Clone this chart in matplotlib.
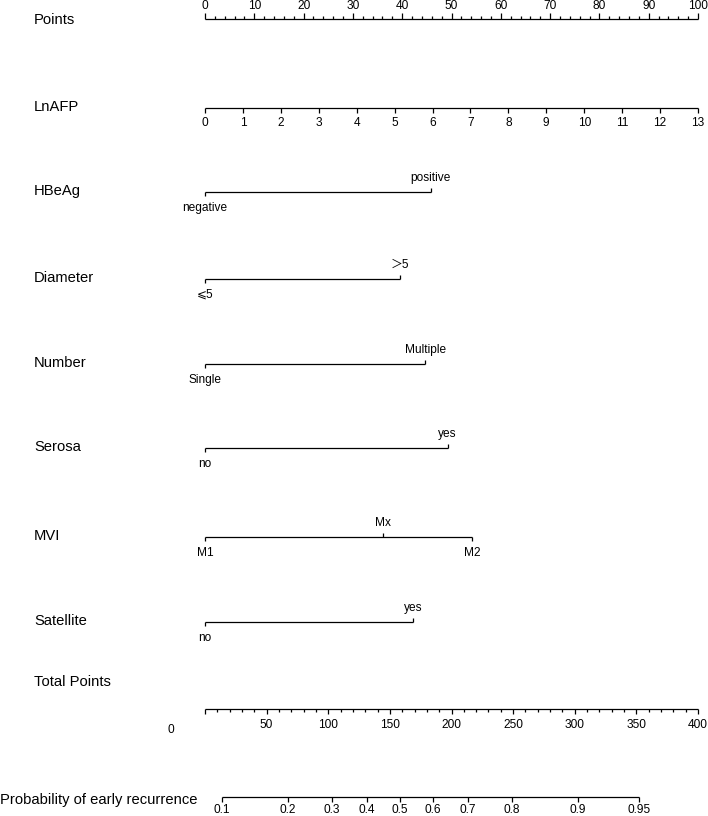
import numpy as np
import matplotlib
matplotlib.use("Agg")
import matplotlib.pyplot as plt

plt.rcParams["font.family"] = ["Liberation Sans", "Noto Sans CJK SC", "DejaVu Sans"]

# Scale definitions (values in "points", 0-100)
lnafp_values = np.arange(0, 14)
lnafp_max_points = 100.0  # LnAFP 13 -> 100 points

hbeag_levels = ["negative", "positive"]
hbeag_points = [0, 45.8]

diameter_levels = ["⩽5", "＞5"]
diameter_points = [0, 39.5]

number_levels = ["Single", "Multiple"]
number_points = [0, 44.7]

serosa_levels = ["no", "yes"]
serosa_points = [0, 49.2]

mvi_levels = ["M1", "Mx", "M2"]
mvi_points = [0, 36.1, 54.2]

satellite_levels = ["no", "yes"]
satellite_points = [0, 42.2]

total_ticks = [0, 50, 100, 150, 200, 250, 300, 350, 400]
total_max = 400.0

prob_labels = ["0.1", "0.2", "0.3", "0.4", "0.5", "0.6", "0.7", "0.8", "0.9", "0.95"]
prob_total_points = [13.8, 67.3, 102.9, 131.4, 158.2, 185.0, 213.5, 249.2, 302.7, 352.0]

# row positions in pixels from the top
row_y = {"Points": 19, "LnAFP": 108, "HBeAg": 192, "Diameter": 279, "Number": 364,
         "Serosa": 448, "MVI": 537, "Satellite": 622, "Total Points": 709,
         "Probability of early recurrence": 797}

LW = 0.9
TICK_FS = 8.6
LABEL_FS = 10.6

fig = plt.figure(figsize=(7.08, 8.16), dpi=100)
ax = fig.add_axes([0, 0, 1, 1])
px_per_pt = 4.93
ax.set_xlim(-205 / px_per_pt, (708 - 205) / px_per_pt)
ax.set_ylim(816, 0)
ax.axis("off")


def left_label(text, y, x=34):
    ax.text((x - 205) / px_per_pt, y, text, fontsize=LABEL_FS,
            ha="left", va="center")


def seg(x0, x1, y0, y1):
    ax.plot([x0, x1], [y0, y1], color="black", lw=LW, solid_capstyle="butt")


# Points axis (ticks up, labels above)
y = row_y["Points"]
left_label("Points", 20)
seg(0, 100, y, y)
for v in np.arange(0, 101, 2):
    major = v % 10 == 0
    seg(v, v, y, y - (6 if major else 3))
    if major:
        ax.text(v, y - 13, str(v), fontsize=TICK_FS, ha="center", va="center")

# LnAFP
y = row_y["LnAFP"]
left_label("LnAFP", 107)
pts = lnafp_values * lnafp_max_points / lnafp_values[-1]
seg(pts[0], pts[-1], y, y)
for v, p in zip(lnafp_values, pts):
    seg(p, p, y, y + 5)
    ax.text(p, y + 15, str(v), fontsize=TICK_FS, ha="center", va="center")


def categorical(name, levels, points, family=None):
    y = row_y[name]
    left_label(name, y - 1)
    seg(min(points), max(points), y, y)
    kw = {"family": family} if family else {}
    for i, (lev, p) in enumerate(zip(levels, points)):
        if i % 2 == 0:
            seg(p, p, y, y + 4)
            ax.text(p, y + 16, lev, fontsize=TICK_FS, ha="center", va="center", **kw)
        else:
            seg(p, p, y, y - 4)
            ax.text(p, y - 14, lev, fontsize=TICK_FS, ha="center", va="center", **kw)


categorical("HBeAg", hbeag_levels, hbeag_points)
categorical("Diameter", diameter_levels, diameter_points,
            family=["Liberation Sans", "DejaVu Sans", "Noto Sans CJK SC"])
categorical("Number", number_levels, number_points)
categorical("Serosa", serosa_levels, serosa_points)
categorical("MVI", mvi_levels, mvi_points)
categorical("Satellite", satellite_levels, satellite_points)

# Total points
y = row_y["Total Points"]
left_label("Total Points", 682)
scale = 100.0 / total_max
seg(0, total_max * scale, y, y)
for v in np.arange(0, 401, 10):
    major = v % 50 == 0
    seg(v * scale, v * scale, y, y + (5 if major else 3))
for v in total_ticks:
    if v == 0:
        ax.text((171 - 205) / px_per_pt, 730, "0", fontsize=TICK_FS, ha="center", va="center")
    else:
        ax.text(v * scale, y + 16, str(v), fontsize=TICK_FS, ha="center", va="center")

# Probability
y = row_y["Probability of early recurrence"]
left_label("Probability of early recurrence", 800, x=0)
pp = [t * scale for t in prob_total_points]
seg(pp[0], pp[-1], y, y)
for lab, p in zip(prob_labels, pp):
    seg(p, p, y, y + 5)
    ax.text(p, y + 13, lab, fontsize=TICK_FS, ha="center", va="center")

fig.savefig("out.png", dpi=100)
